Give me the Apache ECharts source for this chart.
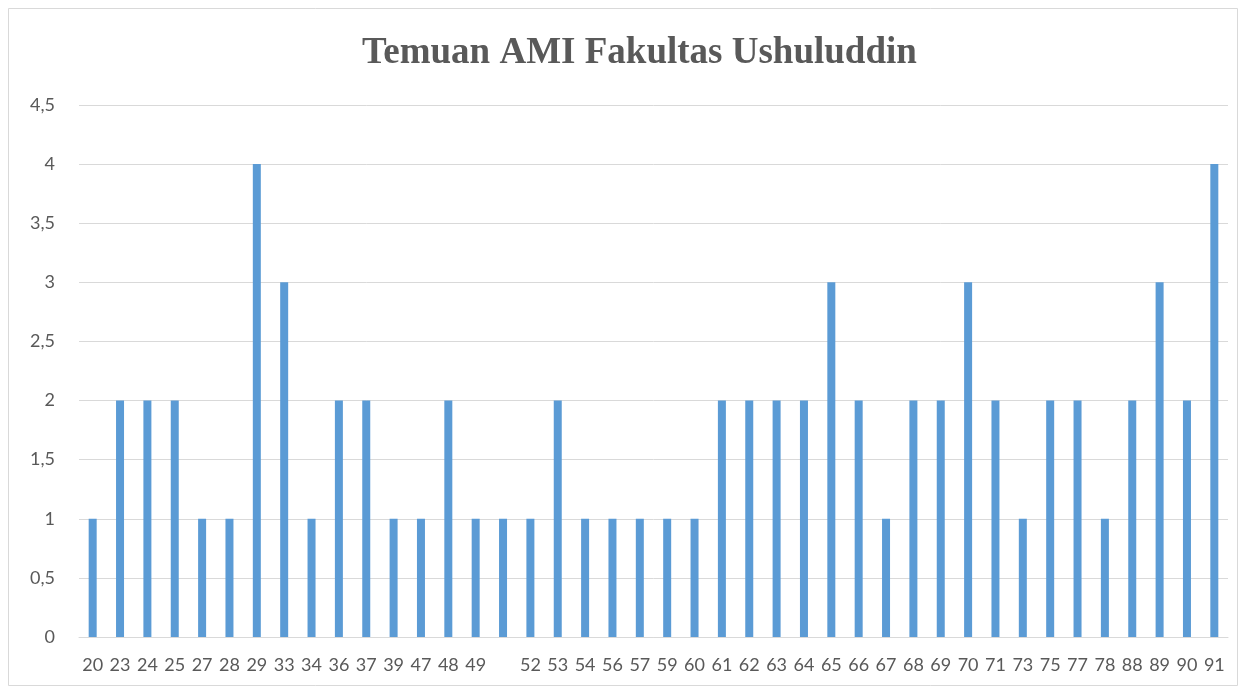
<!DOCTYPE html>
<html>
<head>
<meta charset="utf-8">
<script src="https://cdn.jsdelivr.net/npm/echarts@6/dist/echarts.min.js"></script>
<style>
  html, body { margin: 0; padding: 0; background: #fff; }
  #main { width: 1246px; height: 693px; }
</style>
</head>
<body>
<div id="main"></div>
<script>
// categories (one bar has an empty label in the source)
const categories = ['20','23','24','25','27','28','29','33','34','36','37','39','47','48','49','',
  '52','53','54','56','57','59','60','61','62','63','64','65','66','67','68','69','70','71',
  '73','75','77','78','88','89','90','91'];
const values = [1,2,2,2,1,1,4,3,1,2,2,1,1,2,1,1,
  1,2,1,1,1,1,1,2,2,2,2,3,2,1,2,2,3,2,
  1,2,2,1,2,3,2,4];

const chart = echarts.init(document.getElementById('main'));

const option = {
  backgroundColor: '#ffffff',
  animation: false,
  title: {
    text: 'Temuan AMI Fakultas Ushuluddin',
    left: 357,
    top: 30,
    textStyle: {
      fontFamily: 'Liberation Serif',
      fontWeight: 'bold',
      fontSize: 37,
      color: '#595959'
    }
  },
  graphic: [{
    type: 'rect',
    shape: { x: 8.5, y: 8.5, width: 1229, height: 677 },
    style: { fill: 'none', stroke: '#d9d9d9', lineWidth: 1 },
    silent: true
  }],
  grid: { left: 79, right: 18, top: 105, bottom: 56, containLabel: false },
  xAxis: {
    type: 'category',
    data: categories,
    axisLine: { show: true, lineStyle: { color: '#d9d9d9', width: 1 } },
    axisTick: { show: false },
    axisLabel: {
      interval: 0,
      color: '#595959',
      fontFamily: 'Lato',
      fontSize: 18,
      margin: 19
    }
  },
  yAxis: {
    type: 'value',
    min: 0,
    max: 4.5,
    interval: 0.5,
    axisLine: { show: false },
    axisTick: { show: false },
    axisLabel: {
      color: '#595959',
      fontFamily: 'Lato',
      fontSize: 18,
      margin: 24,
      formatter: v => String(v).replace('.', ',')
    },
    splitLine: { lineStyle: { color: '#d9d9d9', width: 1 } }
  },
  series: [{
    type: 'bar',
    data: values,
    barWidth: 8,
    itemStyle: { color: '#5b9bd5' }
  }]
};

chart.setOption(option);
</script>
</body>
</html>
